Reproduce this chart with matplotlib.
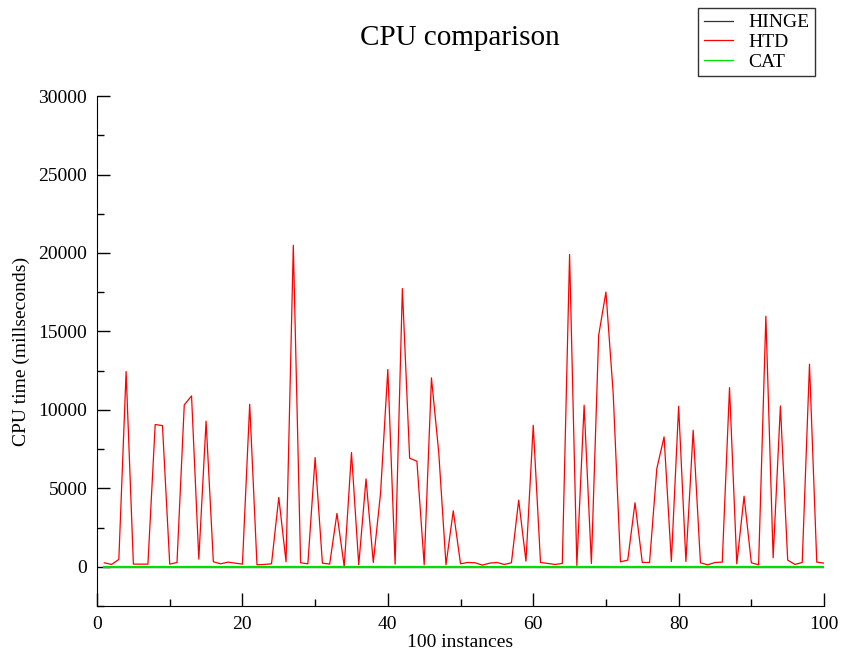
import numpy as np
import matplotlib.pyplot as plt
from matplotlib.ticker import MultipleLocator

# 100 instances
instances = list(range(1, 101))

htd = [255, 150, 470, 12440, 170, 170, 170, 9065, 9000, 170,
       276, 10320, 10890, 490, 9280, 320, 190, 297, 233, 170,
       10360, 127, 150, 190, 4420, 318, 20490, 255, 190, 6960,
       233, 170, 3400, 20, 7280, 127, 5600, 276, 4700, 12570,
       170, 17730, 6920, 6730, 127, 12040, 7300, 127, 3570, 190,
       276, 255, 106, 233, 276, 150, 255, 4250, 360, 9020,
       276, 212, 150, 212, 19910, 85, 10300, 212, 14750, 17510,
       11040, 318, 425, 4080, 276, 276, 6260, 8280, 340, 10230,
       340, 8700, 255, 127, 276, 297, 11420, 190, 4500, 255,
       127, 15970, 573, 10250, 425, 150, 276, 12910, 297, 233]

# HINGE and CAT sit on the zero line
hinge = [0] * 100
cat = [0] * 100

plt.rcParams['font.family'] = ['Liberation Serif', 'DejaVu Serif']

fig = plt.figure(figsize=(8.43, 6.58), dpi=100)
ax = fig.add_axes([0.1151, 0.079, 0.8624, 0.775])

l1, = ax.plot(instances, hinge, color='#333333', lw=0.9, label='HINGE')
l2, = ax.plot(instances, htd, color='red', lw=0.9, label='HTD')
l3, = ax.plot(instances, cat, color='#00dd00', lw=1.6, label='CAT')

ax.set_xlim(0, 100)
ax.set_ylim(-2500, 30000)
ax.xaxis.set_major_locator(MultipleLocator(20))
ax.xaxis.set_minor_locator(MultipleLocator(10))
ax.yaxis.set_major_locator(MultipleLocator(5000))
ax.yaxis.set_minor_locator(MultipleLocator(2500))
ax.tick_params(which='both', direction='in', labelsize=14, pad=7, width=1)
ax.tick_params(which='major', length=9.5)
ax.tick_params(which='minor', length=5)
ax.spines['right'].set_visible(False)
ax.spines['top'].set_visible(False)

ax.set_xlabel('100 instances', fontsize=14, labelpad=1)
ax.set_ylabel('CPU time (millseconds)', fontsize=14, labelpad=6)
fig.text(0.546, 0.942, 'CPU comparison', fontsize=21, ha='center', va='center')

# legend lines in the box use thin strokes
h1 = plt.Line2D([], [], color='#333333', lw=0.9)
h2 = plt.Line2D([], [], color='red', lw=0.9)
h3 = plt.Line2D([], [], color='#00dd00', lw=0.9)
leg = fig.legend(handles=[h1, h2, h3], labels=['HINGE', 'HTD', 'CAT'],
                 loc='upper right',
                 bbox_to_anchor=(815 / 843, 1 - 8 / 658), fontsize=14,
                 frameon=True, fancybox=False, handlelength=1.5,
                 labelspacing=0.1, borderpad=0.3, handletextpad=0.75,
                 borderaxespad=0)
leg.get_frame().set_edgecolor('black')
leg.get_frame().set_linewidth(1)

plt.savefig('out.png', dpi=100)
